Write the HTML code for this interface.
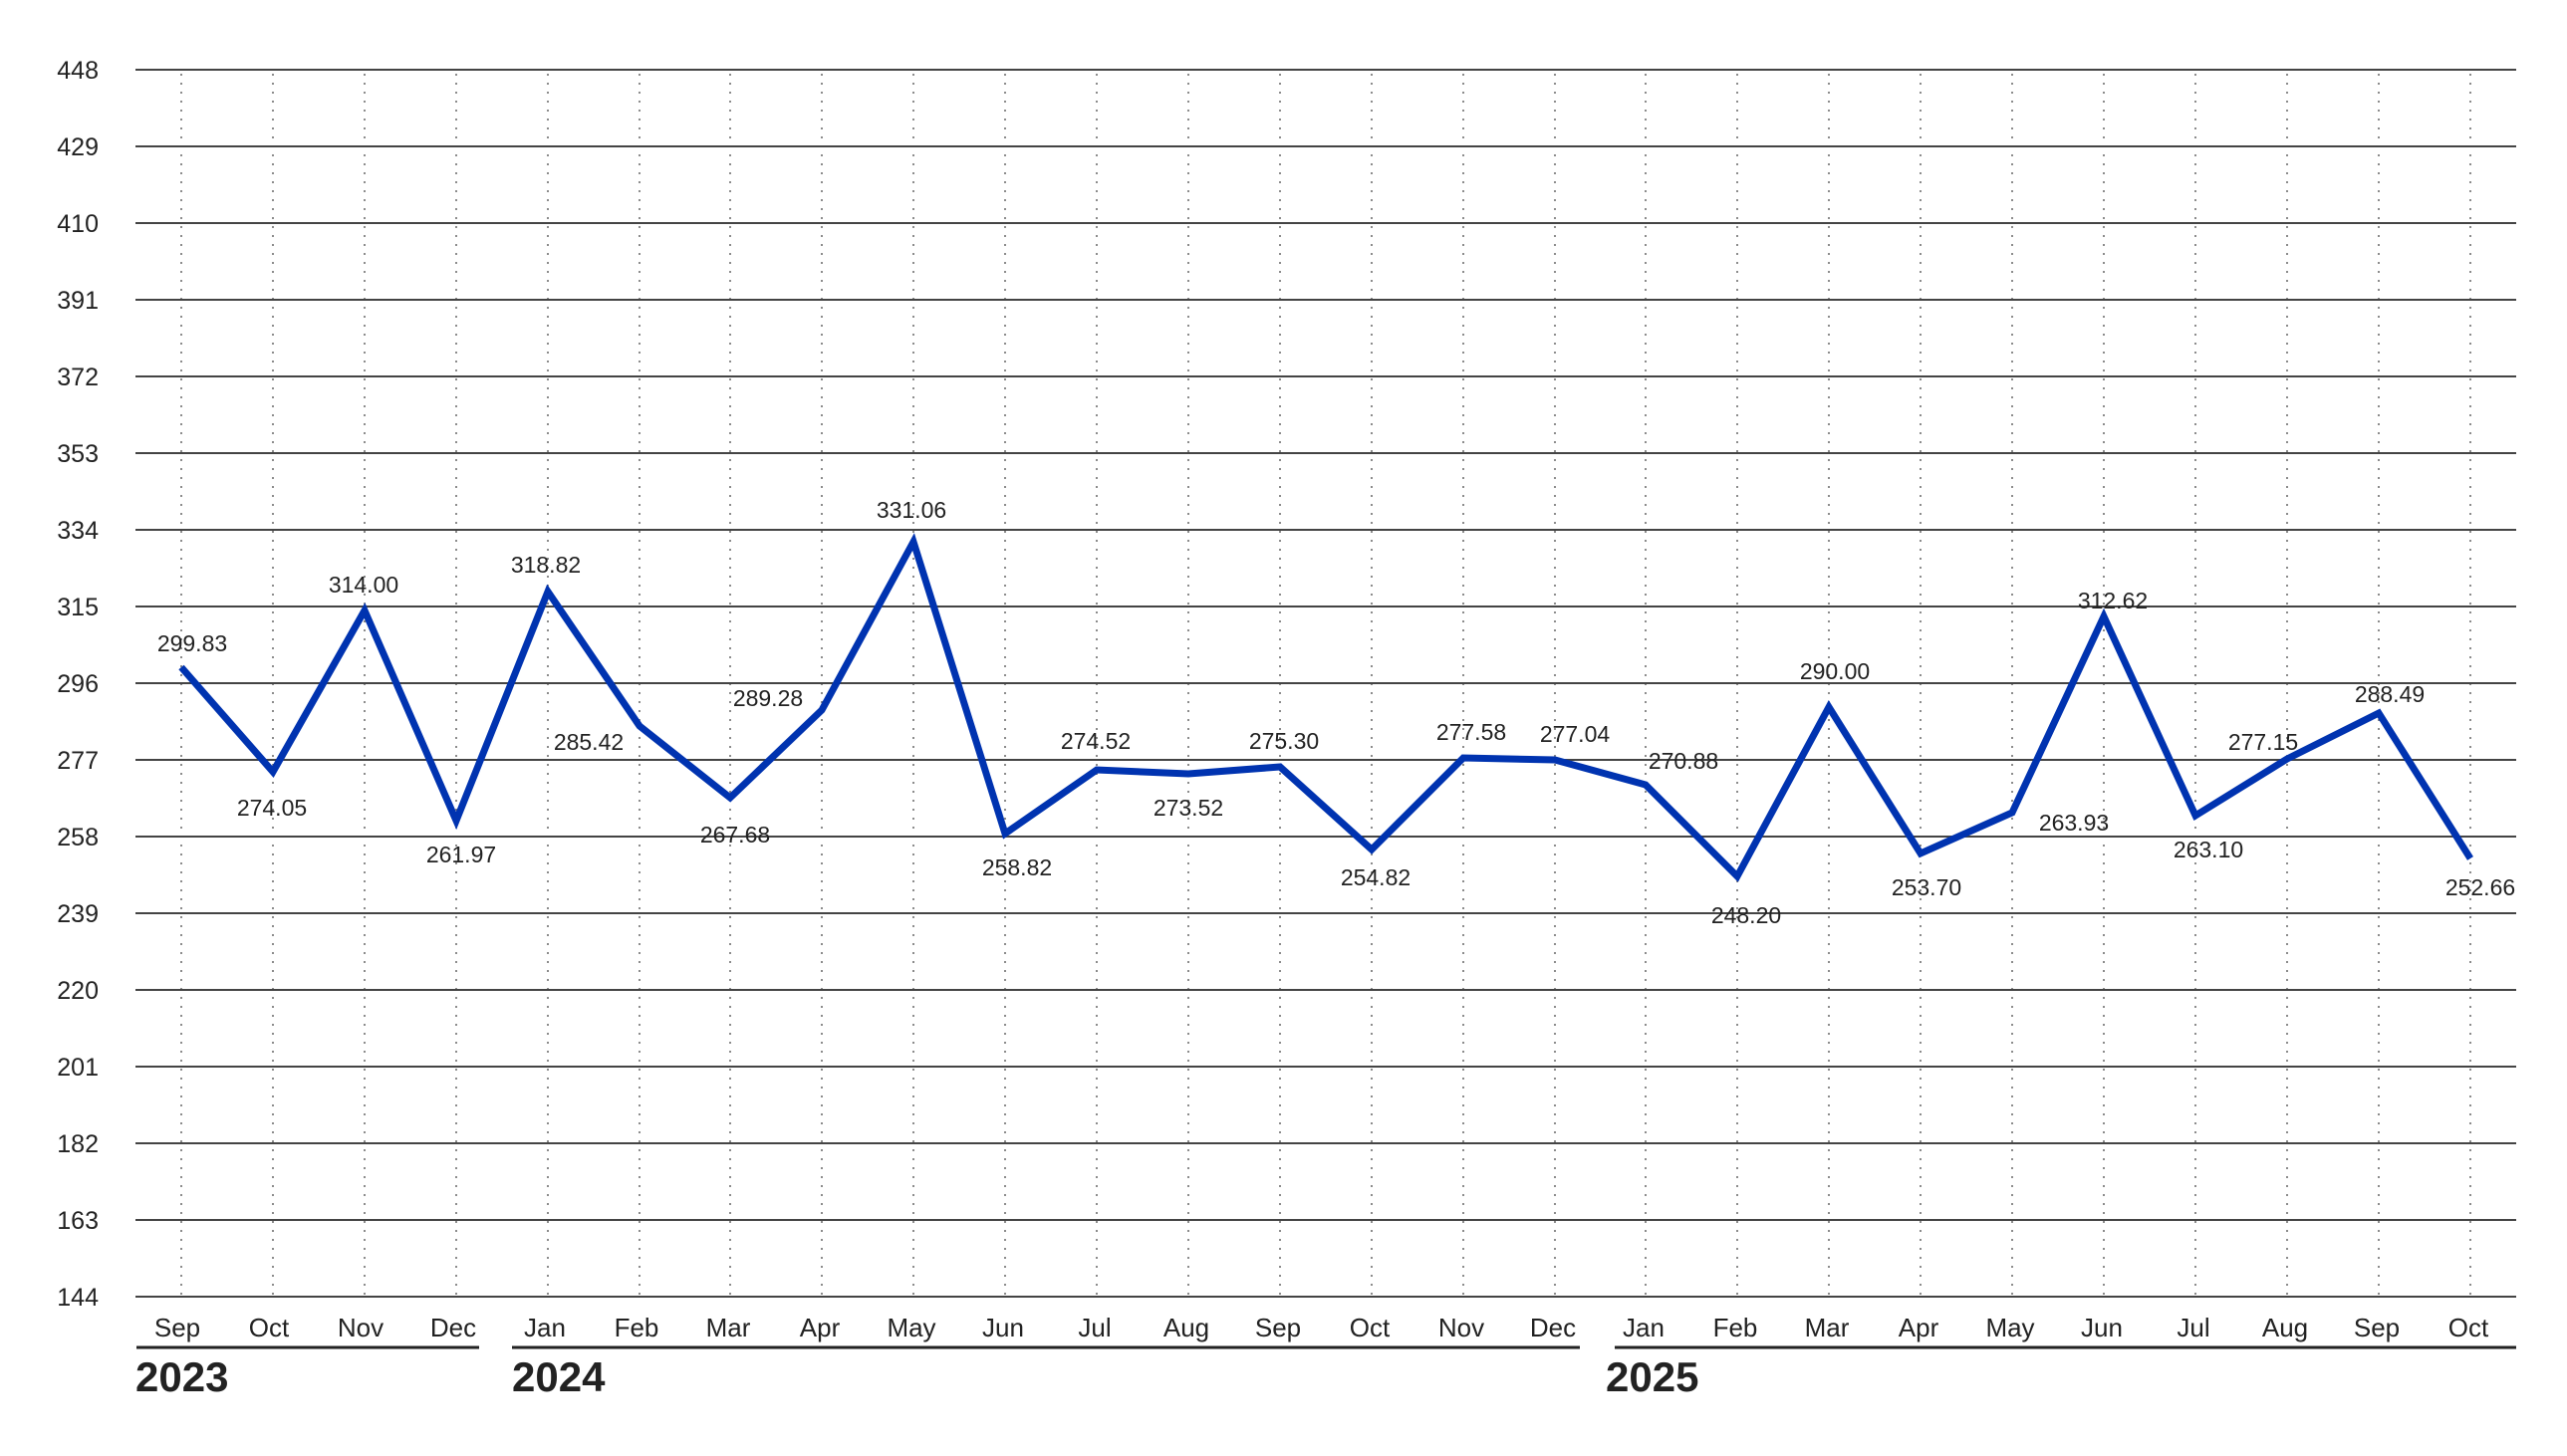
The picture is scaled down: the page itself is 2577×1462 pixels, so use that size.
<!DOCTYPE html>
<html><head><style>body{margin:0;background:#fff}svg{display:block}</style></head><body>
<svg width="2577" height="1462" xmlns="http://www.w3.org/2000/svg" font-family="Liberation Sans, Arial, sans-serif">
<g stroke="#666" stroke-width="1.5" stroke-dasharray="2,7">
<line x1="182" y1="74" x2="182" y2="1300"/><line x1="274" y1="74" x2="274" y2="1300"/><line x1="366" y1="74" x2="366" y2="1300"/><line x1="458" y1="74" x2="458" y2="1300"/><line x1="550" y1="74" x2="550" y2="1300"/><line x1="642" y1="74" x2="642" y2="1300"/><line x1="733" y1="74" x2="733" y2="1300"/><line x1="825" y1="74" x2="825" y2="1300"/><line x1="917" y1="74" x2="917" y2="1300"/><line x1="1009" y1="74" x2="1009" y2="1300"/><line x1="1101" y1="74" x2="1101" y2="1300"/><line x1="1193" y1="74" x2="1193" y2="1300"/><line x1="1285" y1="74" x2="1285" y2="1300"/><line x1="1377" y1="74" x2="1377" y2="1300"/><line x1="1469" y1="74" x2="1469" y2="1300"/><line x1="1561" y1="74" x2="1561" y2="1300"/><line x1="1652" y1="74" x2="1652" y2="1300"/><line x1="1744" y1="74" x2="1744" y2="1300"/><line x1="1836" y1="74" x2="1836" y2="1300"/><line x1="1928" y1="74" x2="1928" y2="1300"/><line x1="2020" y1="74" x2="2020" y2="1300"/><line x1="2112" y1="74" x2="2112" y2="1300"/><line x1="2204" y1="74" x2="2204" y2="1300"/><line x1="2296" y1="74" x2="2296" y2="1300"/><line x1="2388" y1="74" x2="2388" y2="1300"/><line x1="2480" y1="74" x2="2480" y2="1300"/>
</g>
<g stroke="#444" stroke-width="2">
<line x1="136" y1="70" x2="2526" y2="70"/><line x1="136" y1="147" x2="2526" y2="147"/><line x1="136" y1="224" x2="2526" y2="224"/><line x1="136" y1="301" x2="2526" y2="301"/><line x1="136" y1="378" x2="2526" y2="378"/><line x1="136" y1="455" x2="2526" y2="455"/><line x1="136" y1="532" x2="2526" y2="532"/><line x1="136" y1="609" x2="2526" y2="609"/><line x1="136" y1="686" x2="2526" y2="686"/><line x1="136" y1="763" x2="2526" y2="763"/><line x1="136" y1="840" x2="2526" y2="840"/><line x1="136" y1="917" x2="2526" y2="917"/><line x1="136" y1="994" x2="2526" y2="994"/><line x1="136" y1="1071" x2="2526" y2="1071"/><line x1="136" y1="1148" x2="2526" y2="1148"/><line x1="136" y1="1225" x2="2526" y2="1225"/><line x1="136" y1="1302" x2="2526" y2="1302"/>
</g>
<g font-size="25" fill="#222" text-anchor="end">
<text x="99" y="79">448</text><text x="99" y="156">429</text><text x="99" y="233">410</text><text x="99" y="310">391</text><text x="99" y="387">372</text><text x="99" y="464">353</text><text x="99" y="541">334</text><text x="99" y="618">315</text><text x="99" y="695">296</text><text x="99" y="772">277</text><text x="99" y="849">258</text><text x="99" y="926">239</text><text x="99" y="1003">220</text><text x="99" y="1080">201</text><text x="99" y="1157">182</text><text x="99" y="1234">163</text><text x="99" y="1311">144</text>
</g>
<g font-size="26" fill="#222" text-anchor="middle">
<text x="178" y="1342">Sep</text><text x="270" y="1342">Oct</text><text x="362" y="1342">Nov</text><text x="455" y="1342">Dec</text><text x="547" y="1342">Jan</text><text x="639" y="1342">Feb</text><text x="731" y="1342">Mar</text><text x="823" y="1342">Apr</text><text x="915" y="1342">May</text><text x="1007" y="1342">Jun</text><text x="1099" y="1342">Jul</text><text x="1191" y="1342">Aug</text><text x="1283" y="1342">Sep</text><text x="1375" y="1342">Oct</text><text x="1467" y="1342">Nov</text><text x="1559" y="1342">Dec</text><text x="1650" y="1342">Jan</text><text x="1742" y="1342">Feb</text><text x="1834" y="1342">Mar</text><text x="1926" y="1342">Apr</text><text x="2018" y="1342">May</text><text x="2110" y="1342">Jun</text><text x="2202" y="1342">Jul</text><text x="2294" y="1342">Aug</text><text x="2386" y="1342">Sep</text><text x="2478" y="1342">Oct</text>
</g>
<g stroke="#222" stroke-width="3">
<line x1="137" y1="1353" x2="481" y2="1353"/><line x1="514" y1="1353" x2="1586" y2="1353"/><line x1="1621" y1="1353" x2="2526" y2="1353"/>
</g>
<g font-size="42" font-weight="bold" fill="#222">
<text x="136" y="1397">2023</text><text x="514" y="1397">2024</text><text x="1612" y="1397">2025</text>
</g>
<polyline fill="none" stroke="#0033b0" stroke-width="7" stroke-linejoin="miter" points="182,670 274,775 366,613 458,824 550,594 642,729 733,801 825,713 917,544 1009,837 1101,773 1193,777 1285,770 1377,853 1469,761 1561,763 1652,788 1744,880 1836,710 1928,857 2020,816 2112,619 2204,819 2296,762 2388,716 2480,862"/>
<g font-size="23" fill="#222" text-anchor="middle">
<text x="193" y="654">299.83</text><text x="273" y="819">274.05</text><text x="365" y="595">314.00</text><text x="463" y="866">261.97</text><text x="548" y="575">318.82</text><text x="591" y="753">285.42</text><text x="738" y="846">267.68</text><text x="771" y="709">289.28</text><text x="915" y="520">331.06</text><text x="1021" y="879">258.82</text><text x="1100" y="752">274.52</text><text x="1193" y="819">273.52</text><text x="1289" y="752">275.30</text><text x="1381" y="889">254.82</text><text x="1477" y="743">277.58</text><text x="1581" y="745">277.04</text><text x="1690" y="772">270.88</text><text x="1753" y="927">248.20</text><text x="1842" y="682">290.00</text><text x="1934" y="899">253.70</text><text x="2082" y="834">263.93</text><text x="2121" y="611">312.62</text><text x="2217" y="861">263.10</text><text x="2272" y="753">277.15</text><text x="2399" y="705">288.49</text><text x="2490" y="899">252.66</text>
</g>
</svg>
</body></html>
